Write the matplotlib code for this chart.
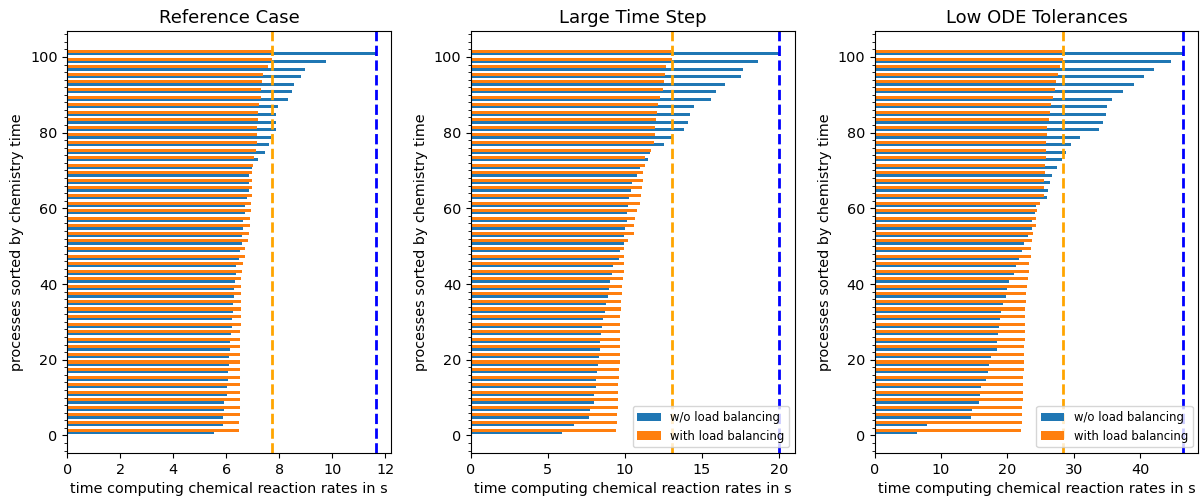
import numpy as np
import matplotlib
matplotlib.use("Agg")
import matplotlib.pyplot as plt
from matplotlib.ticker import MultipleLocator

# processes sorted by chemistry time (rank 0 = fastest), values in seconds
titles = ["Reference Case", "Large Time Step", "Low ODE Tolerances"]

ref_without = [5.54, 5.86, 5.88, 5.91, 5.93, 6.02, 6.03, 6.06, 6.08, 6.09,
               6.11, 6.13, 6.16, 6.19, 6.22, 6.23, 6.25, 6.26, 6.28, 6.28,
               6.32, 6.35, 6.38, 6.48, 6.53, 6.58, 6.61, 6.64, 6.65, 6.69,
               6.70, 6.79, 6.85, 6.86, 6.87, 6.99, 7.21, 7.48, 7.62, 7.70,
               7.87, 7.87, 7.89, 7.94, 8.33, 8.50, 8.56, 8.82, 8.96, 9.75,
               11.64]
ref_with = [6.50, 6.50, 6.51, 6.52, 6.52, 6.52, 6.52, 6.52, 6.52, 6.53,
            6.53, 6.53, 6.53, 6.53, 6.55, 6.55, 6.55, 6.56, 6.56, 6.56,
            6.57, 6.60, 6.65, 6.69, 6.70, 6.84, 6.86, 6.88, 6.91, 6.92,
            6.95, 6.96, 6.97, 6.97, 6.99, 7.01, 7.03, 7.11, 7.16, 7.18,
            7.18, 7.19, 7.21, 7.23, 7.30, 7.33, 7.35, 7.39, 7.57, 7.72,
            7.74]

big_dt_without = [5.91, 6.72, 7.67, 7.76, 7.96, 8.00, 8.09, 8.13, 8.19, 8.22,
                  8.30, 8.35, 8.39, 8.43, 8.50, 8.58, 8.71, 8.80, 8.93, 8.97,
                  9.06, 9.15, 9.23, 9.60, 9.71, 9.91, 9.97, 9.99, 10.12, 10.15,
                  10.17, 10.27, 10.38, 10.45, 10.80, 10.95, 11.51, 11.62, 12.53, 13.03,
                  13.83, 14.09, 14.20, 14.50, 15.57, 15.91, 16.48, 17.56, 17.69, 18.67,
                  20.03]
big_dt_with = [9.43, 9.47, 9.49, 9.54, 9.56, 9.58, 9.58, 9.60, 9.62, 9.65,
               9.65, 9.67, 9.69, 9.69, 9.71, 9.71, 9.73, 9.73, 9.78, 9.82,
               9.86, 9.91, 9.93, 9.97, 9.97, 10.23, 10.58, 10.60, 10.64, 10.80,
               10.99, 11.04, 11.12, 11.19, 11.19, 11.29, 11.31, 11.67, 11.90, 11.95,
               11.95, 11.99, 12.10, 12.14, 12.27, 12.47, 12.53, 12.60, 12.66, 13.03,
               12.99]

low_tol_without = [6.39, 7.90, 14.49, 14.69, 15.70, 15.90, 16.00, 16.81, 17.01, 17.21,
                   17.51, 18.37, 18.42, 18.52, 18.72, 18.92, 19.02, 19.37, 19.82, 19.98,
                   20.18, 20.93, 21.33, 21.69, 22.19, 22.54, 23.04, 23.65, 23.75, 24.10,
                   24.35, 25.96, 26.16, 26.36, 26.72, 27.42, 28.23, 28.83, 29.53, 30.94,
                   33.81, 34.42, 34.82, 35.02, 35.72, 37.43, 38.99, 40.50, 42.11, 44.63,
                   46.44]
low_tol_with = [22.09, 22.14, 22.19, 22.24, 22.29, 22.34, 22.34, 22.39, 22.44, 22.49,
                22.49, 22.54, 22.59, 22.64, 22.64, 22.69, 22.69, 22.74, 22.84, 22.89,
                23.14, 23.19, 23.30, 23.50, 23.60, 23.75, 23.90, 24.35, 24.35, 24.45,
                24.96, 25.51, 25.56, 25.56, 25.61, 25.66, 25.76, 25.76, 25.81, 25.96,
                25.96, 26.21, 26.42, 26.52, 26.92, 27.12, 27.27, 27.62, 27.87, 28.43,
                28.23]

cases = [(ref_without, ref_with, False),
         (big_dt_without, big_dt_with, True),
         (low_tol_without, low_tol_with, True)]

fig, axes = plt.subplots(1, 3, figsize=(12.02, 4.99), dpi=100)
fig.subplots_adjust(left=0.056, right=0.997, bottom=0.092, top=0.938, wspace=0.247)

for ax, title, (t_without, t_with, show_legend) in zip(axes, titles, cases):
    rank = np.arange(len(t_without))
    ax.barh(2 * rank + 0.8, t_without, height=0.8, color="C0", label="w/o load balancing")
    ax.barh(2 * rank + 1.4, t_with, height=0.8, color="C1", label="with load balancing")
    ax.axvline(max(t_without), color="blue", linestyle="--", linewidth=2)
    ax.axvline(max(t_with), color="orange", linestyle="--", linewidth=2)
    ax.yaxis.set_minor_locator(MultipleLocator(2))
    ax.set_title(title, fontsize=13)
    ax.set_xlabel("time computing chemical reaction rates in s", fontsize=10.4)
    ax.set_ylabel("processes sorted by chemistry time", fontsize=10.4)
    ax.tick_params(labelsize=10.4)
    if show_legend:
        ax.legend(loc="lower right", fontsize=8.4)

fig.savefig("out.png")
